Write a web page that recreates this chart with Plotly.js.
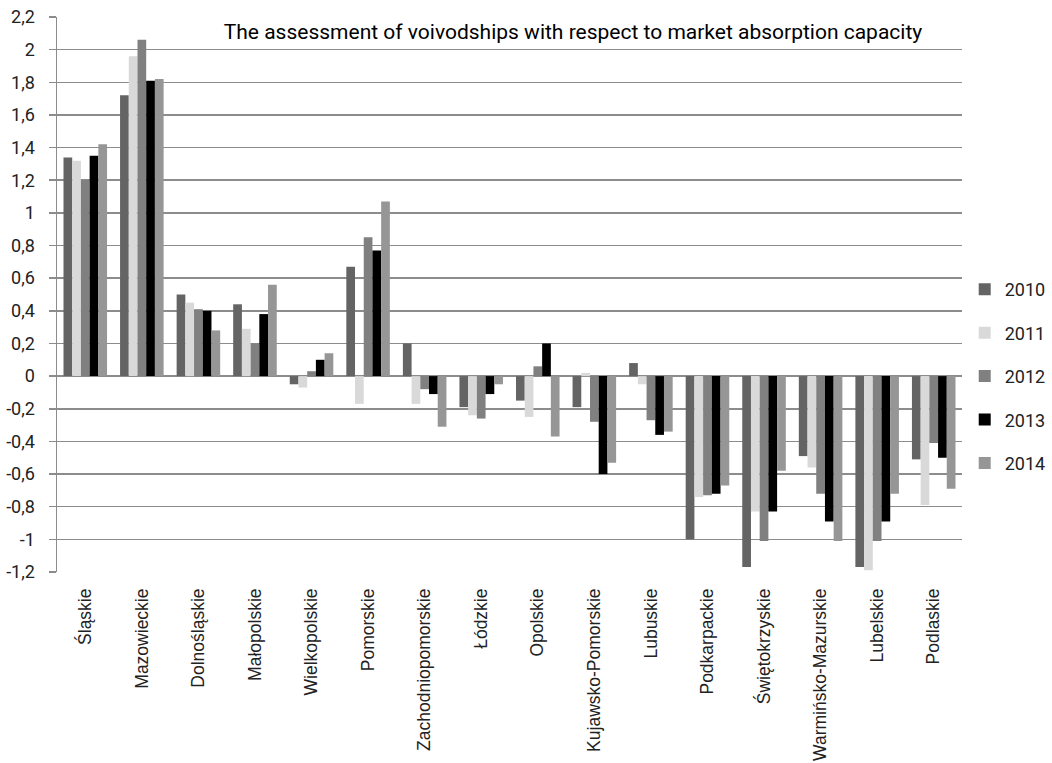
<!DOCTYPE html>
<html>
<head>
<meta charset="utf-8">
<script src="https://cdn.plot.ly/plotly-3.0.1.min.js"></script>
<style>html,body{margin:0;padding:0;background:#fff;}#chart{width:1052px;height:763px;}</style>
</head>
<body>
<div id="chart"></div>
<script>
const categories = ["Śląskie","Mazowieckie","Dolnośląskie","Małopolskie","Wielkopolskie","Pomorskie","Zachodniopomorskie","Łódzkie","Opolskie","Kujawsko-Pomorskie","Lubuskie","Podkarpackie","Świętokrzyskie","Warmińsko-Mazurskie","Lubelskie","Podlaskie"];
const seriesNames = ["2010","2011","2012","2013","2014"];
const v2010 = [1.34, 1.72, 0.50, 0.44, -0.05, 0.67, 0.20, -0.19, -0.15, -0.19, 0.08, -1.00, -1.17, -0.49, -1.17, -0.51];
const v2011 = [1.32, 1.96, 0.45, 0.29, -0.07, -0.17, -0.17, -0.24, -0.25, 0.02, -0.05, -0.74, -0.83, -0.56, -1.19, -0.79];
const v2012 = [1.20, 2.06, 0.41, 0.20, 0.03, 0.85, -0.08, -0.26, 0.06, -0.28, -0.27, -0.73, -1.01, -0.72, -1.01, -0.41];
const v2013 = [1.35, 1.81, 0.40, 0.38, 0.10, 0.77, -0.11, -0.11, 0.20, -0.60, -0.36, -0.72, -0.83, -0.89, -0.89, -0.50];
const v2014 = [1.42, 1.82, 0.28, 0.56, 0.14, 1.07, -0.31, -0.05, -0.37, -0.53, -0.34, -0.67, -0.58, -1.01, -0.72, -0.69];
const yTickVals = [2.2, 2, 1.8, 1.6, 1.4, 1.2, 1, 0.8, 0.6, 0.4, 0.2, 0, -0.2, -0.4, -0.6, -0.8, -1, -1.2];
const yTickText = ["2,2","2","1,8","1,6","1,4","1,2","1","0,8","0,6","0,4","0,2","0","-0,2","-0,4","-0,6","-0,8","-1","-1,2"];
const titleText = "The assessment of voivodships with respect to market absorption capacity";

const allValues = [v2010, v2011, v2012, v2013, v2014];
const colors = ["#646464", "#d9d9d9", "#808080", "#000000", "#969696"];
const yMin = -1.2, yMax = 2.2;

const traces = allValues.map((vals, i) => ({
  type: 'bar',
  name: seriesNames[i],
  x: categories,
  y: vals,
  marker: {color: colors[i], line: {width: 0}},
  legendgroup: 'g' + i,
  hoverinfo: 'x+y+name'
}));

const n = categories.length;
const boundaries = [];
for (let i = 0; i <= n; i++) boundaries.push(i - 0.5);

const layout = {
  width: 1052, height: 763,
  margin: {l: 57, r: 90, t: 17, b: 191, autoexpand: false},
  paper_bgcolor: '#fff', plot_bgcolor: '#fff',
  bargap: 0.23, bargroupgap: 0,
  showlegend: true,
  title: {
    text: titleText,
    font: {family: 'Roboto, sans-serif', size: 21, color: '#000'},
    x: 573 / 1052, xanchor: 'center', y: 1 - 32 / 763, yanchor: 'middle', xref: 'container', yref: 'container'
  },
  legend: {
    x: 1.003, xanchor: 'left', y: 1.2 / 3.4, yanchor: 'middle',
    font: {family: 'Roboto, sans-serif', size: 18, color: '#222'},
    traceorder: 'grouped', tracegroupgap: 17,
    itemwidth: 30, bgcolor: 'rgba(0,0,0,0)'
  },
  xaxis: {
    type: 'category', anchor: 'y', side: 'bottom',
    showgrid: false, zeroline: false, showline: false, ticks: '',
    tickangle: -90, ticklabelstandoff: 12,
    tickfont: {family: 'Liberation Sans, Arial, sans-serif', size: 17.5, color: '#222'},
    range: [-0.5, n - 0.5]
  },
  xaxis2: {
    overlaying: 'x', anchor: 'free', position: (0 - yMin) / (yMax - yMin),
    range: [-0.5, n - 0.5], type: 'linear',
    tickmode: 'array', tickvals: boundaries, showticklabels: false,
    ticks: 'outside', ticklen: 6, tickwidth: 1.5, tickcolor: '#888',
    showgrid: false, zeroline: false, showline: true, linecolor: '#888', linewidth: 1.5
  },
  yaxis: {
    range: [yMin, yMax], tickmode: 'array', tickvals: yTickVals, ticktext: yTickText,
    showgrid: true, gridcolor: '#8c8c8c', gridwidth: 1.5,
    zeroline: false, showline: true, linecolor: '#8c8c8c', linewidth: 1.5,
    ticks: 'outside', ticklen: 7, tickwidth: 1.5, tickcolor: '#8c8c8c',
    ticklabelstandoff: 10,
    tickfont: {family: 'Roboto, sans-serif', size: 18, color: '#222'}
  },
  font: {family: 'Roboto, sans-serif'}
};

Plotly.newPlot('chart', traces, layout, {displayModeBar: false, staticPlot: true});
</script>
</body>
</html>
